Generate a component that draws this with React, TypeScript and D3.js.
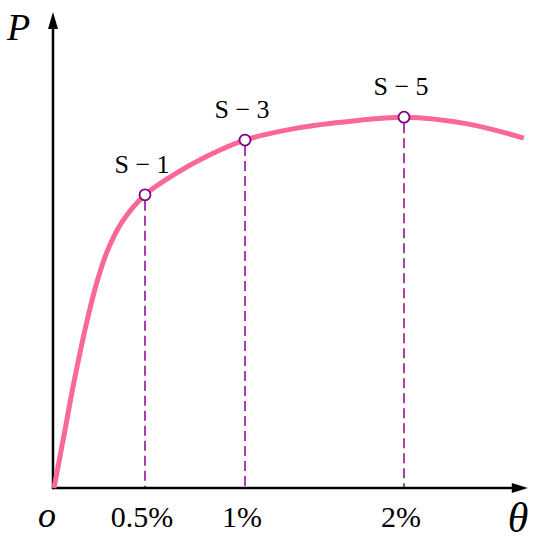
import * as d3 from "d3";
import { useEffect, useRef } from "react";

// curve: theta in %, P normalized to 100 at axis top
const thetaVals = [0, 0.055, 0.11, 0.176, 0.231, 0.291, 0.374, 0.5, 0.675, 0.875, 1.0, 1.327, 1.679, 2.0, 2.4, 2.755];
const pVals = [0, 11.1, 22.3, 34.2, 42.6, 49.6, 55.9, 61.6, 66.6, 71.0, 73.1, 75.6, 77.1, 77.9, 76.5, 73.5];

const markLabels = ["S − 1", "S − 3", "S − 5"];
const markTheta = [0.5, 1, 2];
const markP = [61.6, 73.1, 77.9];

const tickVals = [0.5, 1, 2];
const tickLabels = ["0.5%", "1%", "2%"];

const W = 539;
const H = 541;

export default function App() {
  const ref = useRef<SVGSVGElement | null>(null);

  useEffect(() => {
    if (!ref.current) return;
    const svg = d3.select(ref.current);
    svg.selectAll("*").remove();

    // the original axis is not linear, so use a piecewise scale
    const x = d3.scaleLinear().domain([0, 0.5, 1, 2, 2.8]).range([54, 145, 245, 404, 531]);
    const y = d3.scaleLinear().domain([0, 100]).range([488, 12]);

    const serif = "'Liberation Serif', 'Times New Roman', serif";
    const pink = "#fb6898";
    const purple = "#a63fb0";
    const ax = x(0) - 1;
    const ay = y(0);
    const xEnd = x(2.78);

    // dashed drops
    const marks = markTheta.map((t, i) => ({ t, p: markP[i], label: markLabels[i] }));
    svg
      .selectAll("line.drop")
      .data(marks)
      .join("line")
      .attr("class", "drop")
      .attr("x1", (d) => x(d.t))
      .attr("x2", (d) => x(d.t))
      .attr("y1", (d) => y(d.p) + 6)
      .attr("y2", ay)
      .attr("stroke", purple)
      .attr("stroke-width", 2)
      .attr("stroke-dasharray", "10,5");

    // axes
    svg
      .append("line")
      .attr("x1", ax)
      .attr("x2", ax)
      .attr("y1", ay + 1)
      .attr("y2", y(97))
      .attr("stroke", "#000")
      .attr("stroke-width", 2.5);
    svg
      .append("line")
      .attr("x1", ax - 1)
      .attr("x2", xEnd - 10)
      .attr("y1", ay)
      .attr("y2", ay)
      .attr("stroke", "#000")
      .attr("stroke-width", 2.5);
    const yTip = y(100);
    svg
      .append("path")
      .attr("d", `M${ax},${yTip} L${ax - 5},${yTip + 17} L${ax + 5},${yTip + 17} Z`)
      .attr("fill", "#000");
    svg
      .append("path")
      .attr("d", `M${xEnd},${ay} L${xEnd - 16},${ay - 5} L${xEnd - 16},${ay + 5} Z`)
      .attr("fill", "#000");

    // curve
    const line = d3
      .line<number>()
      .x((d) => x(d))
      .y((_d, i) => y(pVals[i]))
      .curve(d3.curveCatmullRom.alpha(0.5));
    svg
      .append("path")
      .attr("d", line(thetaVals))
      .attr("fill", "none")
      .attr("stroke", pink)
      .attr("stroke-width", 5)
      .attr("stroke-linecap", "butt");

    // points and labels
    svg
      .selectAll("circle.mark")
      .data(marks)
      .join("circle")
      .attr("class", "mark")
      .attr("cx", (d) => x(d.t))
      .attr("cy", (d) => y(d.p))
      .attr("r", 5.5)
      .attr("fill", "#fff")
      .attr("stroke", "#800080")
      .attr("stroke-width", 1.8);
    svg
      .selectAll("text.mark")
      .data(marks)
      .join("text")
      .attr("class", "mark")
      .attr("x", (d) => x(d.t) - 3)
      .attr("y", (d) => y(d.p) - 22)
      .attr("text-anchor", "middle")
      .style("font-family", serif)
      .style("font-size", "26px")
      .attr("fill", "#000")
      .text((d) => d.label);

    // tick labels
    svg
      .selectAll("text.tick")
      .data(tickVals)
      .join("text")
      .attr("class", "tick")
      .attr("x", (d) => x(d) - 3)
      .attr("y", 527)
      .attr("text-anchor", "middle")
      .style("font-family", serif)
      .style("font-size", "30px")
      .attr("fill", "#000")
      .text((_d, i) => tickLabels[i]);

    svg
      .append("text")
      .attr("x", 47)
      .attr("y", 527)
      .attr("text-anchor", "middle")
      .style("font-family", serif)
      .style("font-style", "italic")
      .style("font-size", "36px")
      .text("o");
    svg
      .append("text")
      .attr("x", 518)
      .attr("y", 532)
      .attr("text-anchor", "middle")
      .style("font-family", serif)
      .style("font-style", "italic")
      .style("font-size", "42px")
      .text("θ");
    svg
      .append("text")
      .attr("x", 7)
      .attr("y", 40)
      .style("font-family", serif)
      .style("font-style", "italic")
      .style("font-size", "38px")
      .text("P");
  }, []);

  return (
    <svg
      ref={ref}
      width={W}
      height={H}
      style={{ position: "absolute", left: 0, top: 0, background: "#fff" }}
    />
  );
}
